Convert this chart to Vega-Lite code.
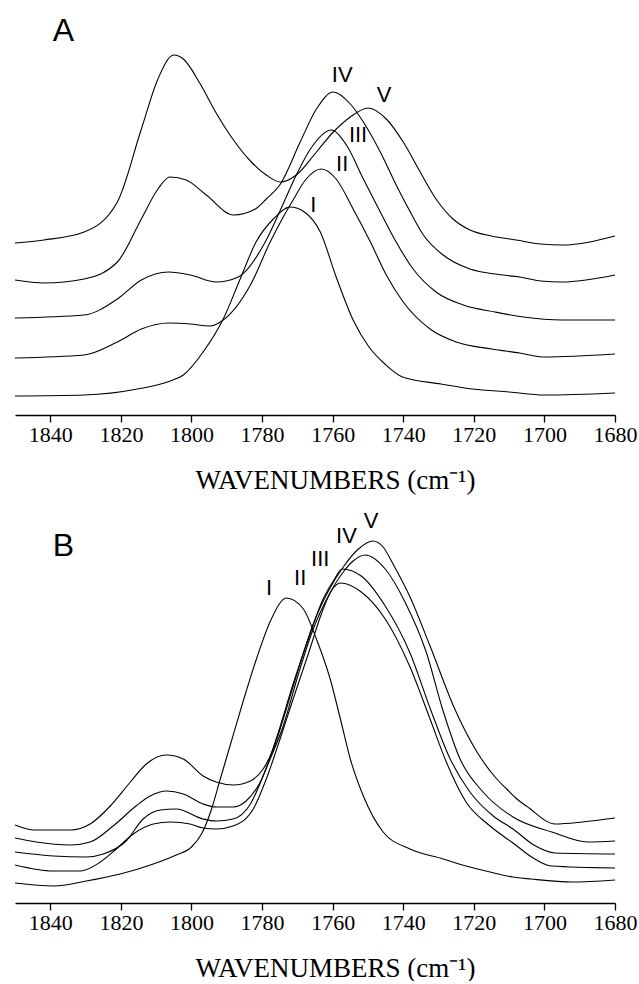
{
  "$schema": "https://vega.github.io/schema/vega-lite/v6.json",
  "padding": {"left": 12, "top": 15, "right": 27, "bottom": 0},
  "background": "white",
  "spacing": 11,
  "config": {
    "view": {"stroke": null}
  },
  "datasets": {
    "specA": [
      {"s":"V","w":1850,"a":172},{"s":"V","w":1841.8,"a":175},{"s":"V","w":1830.4,"a":183},{"s":"V","w":1821,"a":213},{"s":"V","w":1814.2,"a":286},{"s":"V","w":1809.5,"a":336},{"s":"V","w":1805,"a":360},{"s":"V","w":1802.3,"a":356},{"s":"V","w":1797.5,"a":331},{"s":"V","w":1793,"a":302},{"s":"V","w":1788.1,"a":275},{"s":"V","w":1783.3,"a":254},{"s":"V","w":1778.8,"a":240},{"s":"V","w":1774.8,"a":233},{"s":"V","w":1770.3,"a":240},{"s":"V","w":1764.6,"a":263},{"s":"V","w":1759.8,"a":283},{"s":"V","w":1755,"a":298},{"s":"V","w":1749.9,"a":307},{"s":"V","w":1744.8,"a":296},{"s":"V","w":1740,"a":273},{"s":"V","w":1735.2,"a":243},{"s":"V","w":1730.7,"a":216},{"s":"V","w":1725.9,"a":196},{"s":"V","w":1721.1,"a":185},{"s":"V","w":1715,"a":179},{"s":"V","w":1708,"a":175},{"s":"V","w":1701,"a":171},{"s":"V","w":1695,"a":170},{"s":"V","w":1680,"a":179},
      {"s":"IV","w":1850,"a":135},{"s":"IV","w":1841.8,"a":132},{"s":"IV","w":1830.4,"a":136},{"s":"IV","w":1821,"a":153},{"s":"IV","w":1814.2,"a":196},{"s":"IV","w":1809.5,"a":226},{"s":"IV","w":1806.1,"a":238},{"s":"IV","w":1801.5,"a":235},{"s":"IV","w":1795.8,"a":220},{"s":"IV","w":1788.1,"a":200},{"s":"IV","w":1781.9,"a":206},{"s":"IV","w":1778.8,"a":216},{"s":"IV","w":1774.8,"a":231},{"s":"IV","w":1769.2,"a":273},{"s":"IV","w":1764.6,"a":306},{"s":"IV","w":1759.8,"a":323},{"s":"IV","w":1755,"a":311},{"s":"IV","w":1751.3,"a":293},{"s":"IV","w":1746.5,"a":263},{"s":"IV","w":1742,"a":230},{"s":"IV","w":1738,"a":203},{"s":"IV","w":1734.3,"a":180},{"s":"IV","w":1728.7,"a":160},{"s":"IV","w":1721.1,"a":146},{"s":"IV","w":1714,"a":141},{"s":"IV","w":1707,"a":138},{"s":"IV","w":1701,"a":134},{"s":"IV","w":1695,"a":133},{"s":"IV","w":1680,"a":140},
      {"s":"III","w":1850,"a":97},{"s":"III","w":1830.4,"a":100},{"s":"III","w":1821,"a":116},{"s":"III","w":1814.2,"a":135},{"s":"III","w":1806.5,"a":143},{"s":"III","w":1800.3,"a":140},{"s":"III","w":1793,"a":133},{"s":"III","w":1786.7,"a":138},{"s":"III","w":1779.1,"a":173},{"s":"III","w":1774.8,"a":205},{"s":"III","w":1770.3,"a":240},{"s":"III","w":1766.3,"a":266},{"s":"III","w":1760.4,"a":285},{"s":"III","w":1756.1,"a":270},{"s":"III","w":1751.3,"a":236},{"s":"III","w":1746.5,"a":203},{"s":"III","w":1742,"a":173},{"s":"III","w":1737.2,"a":146},{"s":"III","w":1730.7,"a":123},{"s":"III","w":1723,"a":110},{"s":"III","w":1714,"a":103},{"s":"III","w":1706,"a":98},{"s":"III","w":1695,"a":95},{"s":"III","w":1680,"a":95},
      {"s":"II","w":1850,"a":57},{"s":"II","w":1830.4,"a":60},{"s":"II","w":1821,"a":73},{"s":"II","w":1814.2,"a":86},{"s":"II","w":1806.5,"a":92},{"s":"II","w":1800.3,"a":91},{"s":"II","w":1794.7,"a":89},{"s":"II","w":1791,"a":95},{"s":"II","w":1783.3,"a":130},{"s":"II","w":1777.7,"a":173},{"s":"II","w":1774,"a":198},{"s":"II","w":1771.2,"a":215},{"s":"II","w":1767.5,"a":236},{"s":"II","w":1763.2,"a":246},{"s":"II","w":1759,"a":236},{"s":"II","w":1754.2,"a":206},{"s":"II","w":1749.3,"a":173},{"s":"II","w":1744.8,"a":140},{"s":"II","w":1740,"a":113},{"s":"II","w":1732.4,"a":86},{"s":"II","w":1725,"a":73},{"s":"II","w":1715,"a":66},{"s":"II","w":1707,"a":62},{"s":"II","w":1700,"a":58},{"s":"II","w":1680,"a":61},
      {"s":"I","w":1850,"a":19},{"s":"I","w":1830.4,"a":20},{"s":"I","w":1815.3,"a":26},{"s":"I","w":1806,"a":34},{"s":"I","w":1802.3,"a":40},{"s":"I","w":1796.7,"a":63},{"s":"I","w":1791,"a":96},{"s":"I","w":1786.2,"a":136},{"s":"I","w":1781.7,"a":173},{"s":"I","w":1776.8,"a":196},{"s":"I","w":1772,"a":208},{"s":"I","w":1768,"a":203},{"s":"I","w":1763.5,"a":183},{"s":"I","w":1759,"a":138},{"s":"I","w":1754.2,"a":95},{"s":"I","w":1749.7,"a":68},{"s":"I","w":1745.2,"a":51},{"s":"I","w":1740.2,"a":38},{"s":"I","w":1729.3,"a":31},{"s":"I","w":1720.3,"a":26},{"s":"I","w":1710,"a":23},{"s":"I","w":1700,"a":20},{"s":"I","w":1680,"a":22}
    ],
    "specB": [
      {"s":"V","w":1850,"a":78},{"s":"V","w":1844.5,"a":73},{"s":"V","w":1834.3,"a":73},{"s":"V","w":1828.7,"a":79},{"s":"V","w":1823,"a":97},{"s":"V","w":1817.3,"a":121},{"s":"V","w":1812.8,"a":139},{"s":"V","w":1807.1,"a":148},{"s":"V","w":1802.3,"a":144},{"s":"V","w":1796.7,"a":127},{"s":"V","w":1793,"a":121},{"s":"V","w":1788.1,"a":118},{"s":"V","w":1783.3,"a":122},{"s":"V","w":1779.7,"a":134},{"s":"V","w":1776.8,"a":154},{"s":"V","w":1774,"a":184},{"s":"V","w":1769.7,"a":234},{"s":"V","w":1765.5,"a":279},{"s":"V","w":1761.2,"a":312},{"s":"V","w":1757,"a":336},{"s":"V","w":1752.7,"a":354},{"s":"V","w":1748.6,"a":362},{"s":"V","w":1745.7,"a":356},{"s":"V","w":1742.9,"a":339},{"s":"V","w":1738.2,"a":307},{"s":"V","w":1732.4,"a":257},{"s":"V","w":1725.4,"a":194},{"s":"V","w":1719.1,"a":151},{"s":"V","w":1713.5,"a":124},{"s":"V","w":1710.7,"a":114},{"s":"V","w":1707.8,"a":104},{"s":"V","w":1705.1,"a":97},{"s":"V","w":1696.9,"a":79},{"s":"V","w":1689.2,"a":81},{"s":"V","w":1680,"a":85},
      {"s":"IV","w":1850,"a":65},{"s":"IV","w":1844,"a":61},{"s":"IV","w":1834.3,"a":58},{"s":"IV","w":1828.7,"a":61},{"s":"IV","w":1822.2,"a":77},{"s":"IV","w":1815.7,"a":97},{"s":"IV","w":1811.7,"a":107},{"s":"IV","w":1807.1,"a":112},{"s":"IV","w":1802.3,"a":109},{"s":"IV","w":1796.7,"a":99},{"s":"IV","w":1793,"a":96},{"s":"IV","w":1788.2,"a":96},{"s":"IV","w":1784.5,"a":102},{"s":"IV","w":1780.5,"a":121},{"s":"IV","w":1777.7,"a":144},{"s":"IV","w":1774,"a":177},{"s":"IV","w":1769.7,"a":229},{"s":"IV","w":1765.5,"a":274},{"s":"IV","w":1761.2,"a":307},{"s":"IV","w":1757,"a":331},{"s":"IV","w":1754.2,"a":342},{"s":"IV","w":1750.8,"a":348},{"s":"IV","w":1745.1,"a":334},{"s":"IV","w":1739.5,"a":301},{"s":"IV","w":1733.5,"a":251},{"s":"IV","w":1728.7,"a":192},{"s":"IV","w":1723.9,"a":144},{"s":"IV","w":1717.4,"a":111},{"s":"IV","w":1708.9,"a":86},{"s":"IV","w":1697.9,"a":71},{"s":"IV","w":1687.7,"a":61},{"s":"IV","w":1680,"a":62},
      {"s":"III","w":1850,"a":51},{"s":"III","w":1839.1,"a":47},{"s":"III","w":1829.8,"a":46},{"s":"III","w":1825,"a":49},{"s":"III","w":1818.5,"a":62},{"s":"III","w":1813.7,"a":84},{"s":"III","w":1808.8,"a":93},{"s":"III","w":1804.3,"a":94},{"s":"III","w":1796.7,"a":84},{"s":"III","w":1793,"a":82},{"s":"III","w":1788.2,"a":84},{"s":"III","w":1783.3,"a":99},{"s":"III","w":1779.7,"a":127},{"s":"III","w":1776,"a":164},{"s":"III","w":1771.2,"a":219},{"s":"III","w":1766.9,"a":264},{"s":"III","w":1762.7,"a":304},{"s":"III","w":1759.8,"a":322},{"s":"III","w":1757.3,"a":334},{"s":"III","w":1751.9,"a":327},{"s":"III","w":1745.1,"a":297},{"s":"III","w":1738.2,"a":251},{"s":"III","w":1732.1,"a":192},{"s":"III","w":1726.7,"a":144},{"s":"III","w":1721.1,"a":111},{"s":"III","w":1714.5,"a":87},{"s":"III","w":1708.9,"a":74},{"s":"III","w":1703,"a":58},{"s":"III","w":1697,"a":50},{"s":"III","w":1680,"a":49},
      {"s":"II","w":1850,"a":38},{"s":"II","w":1839.1,"a":32},{"s":"II","w":1831.5,"a":32},{"s":"II","w":1825.8,"a":41},{"s":"II","w":1821.3,"a":54},{"s":"II","w":1816.5,"a":69},{"s":"II","w":1810.8,"a":79},{"s":"II","w":1806,"a":81},{"s":"II","w":1800.4,"a":79},{"s":"II","w":1796.7,"a":75},{"s":"II","w":1793,"a":74},{"s":"II","w":1788.2,"a":77},{"s":"II","w":1782.5,"a":94},{"s":"II","w":1778.8,"a":124},{"s":"II","w":1774.9,"a":164},{"s":"II","w":1771.2,"a":204},{"s":"II","w":1766.9,"a":249},{"s":"II","w":1763.2,"a":289},{"s":"II","w":1760.4,"a":312},{"s":"II","w":1757.8,"a":320},{"s":"II","w":1751.9,"a":311},{"s":"II","w":1745.1,"a":284},{"s":"II","w":1738.2,"a":237},{"s":"II","w":1732.4,"a":184},{"s":"II","w":1727.8,"a":141},{"s":"II","w":1722.2,"a":101},{"s":"II","w":1715.4,"a":77},{"s":"II","w":1708.9,"a":60},{"s":"II","w":1703.2,"a":45},{"s":"II","w":1698,"a":37},{"s":"II","w":1680,"a":35},
      {"s":"I","w":1850,"a":20},{"s":"I","w":1839.1,"a":17},{"s":"I","w":1829.8,"a":22},{"s":"I","w":1820.2,"a":29},{"s":"I","w":1810.8,"a":39},{"s":"I","w":1804.3,"a":48},{"s":"I","w":1800,"a":56},{"s":"I","w":1797,"a":70},{"s":"I","w":1794.5,"a":92},{"s":"I","w":1792,"a":122},{"s":"I","w":1789,"a":158},{"s":"I","w":1785.5,"a":200},{"s":"I","w":1781.5,"a":245},{"s":"I","w":1777.5,"a":283},{"s":"I","w":1773.1,"a":305},{"s":"I","w":1768.3,"a":294},{"s":"I","w":1764.6,"a":264},{"s":"I","w":1760.7,"a":224},{"s":"I","w":1757.8,"a":184},{"s":"I","w":1755,"a":144},{"s":"I","w":1751.3,"a":107},{"s":"I","w":1745.7,"a":71},{"s":"I","w":1738.1,"a":54},{"s":"I","w":1728.7,"a":44},{"s":"I","w":1722.2,"a":37},{"s":"I","w":1715.4,"a":31},{"s":"I","w":1708.9,"a":26},{"s":"I","w":1703.8,"a":24},{"s":"I","w":1692.2,"a":21},{"s":"I","w":1680,"a":23}
    ],
    "labA": [
      {"t":"IV","w":1757.3,"a":340},{"t":"V","w":1745.4,"a":320},{"t":"III","w":1752.8,"a":280},{"t":"II","w":1757.3,"a":251},{"t":"I","w":1765.5,"a":210}
    ],
    "labB": [
      {"t":"I","w":1778,"a":315},{"t":"II","w":1769.2,"a":325},{"t":"III","w":1763.5,"a":344},{"t":"IV","w":1756.1,"a":367},{"t":"V","w":1749.1,"a":382}
    ],
    "panA": [{"t":"A","w":1836.3,"a":384}],
    "panB": [{"t":"B","w":1836.3,"a":357}]
  },
  "vconcat": [
    {
      "width": 600, "height": 398,
      "layer": [
        {
          "data": {"name": "specA"},
          "mark": {"type": "line", "color": "black", "strokeWidth": 1.1, "interpolate": "monotone"},
          "encoding": {
            "x": {"field": "w", "type": "quantitative", "scale": {"domain": [1680, 1850], "reverse": true, "nice": false, "zero": false},
              "axis": {"title": "WAVENUMBERS (cm⁻¹)", "values": [1840, 1820, 1800, 1780, 1760, 1740, 1720, 1700, 1680], "format": "d",
                "domainColor": "black", "domainWidth": 1.5, "tickColor": "black", "tickWidth": 1.3, "tickSize": 7,
                "labelFont": "Liberation Serif", "labelFontSize": 22, "labelColor": "black", "labelPadding": 2, "labelFlush": false, "labelOverlap": false,
                "titleFont": "Liberation Serif", "titleFontSize": 27, "titleFontWeight": "normal", "titleColor": "black", "titlePadding": 22, "titleX": 320, "grid": false}},
            "y": {"field": "a", "type": "quantitative", "scale": {"domain": [0, 398], "nice": false}, "axis": null},
            "detail": {"field": "s"}
          }
        },
        {
          "data": {"name": "labA"},
          "mark": {"type": "text", "font": "Liberation Sans", "fontSize": 22, "color": "black", "align": "center", "baseline": "middle"},
          "encoding": {
            "x": {"field": "w", "type": "quantitative"},
            "y": {"field": "a", "type": "quantitative"},
            "text": {"field": "t"}
          }
        },
        {
          "data": {"name": "panA"},
          "mark": {"type": "text", "font": "Liberation Sans", "fontSize": 32, "color": "black", "align": "center", "baseline": "middle"},
          "encoding": {
            "x": {"field": "w", "type": "quantitative"},
            "y": {"field": "a", "type": "quantitative"},
            "text": {"field": "t"}
          }
        }
      ]
    },
    {
      "width": 600, "height": 399,
      "layer": [
        {
          "data": {"name": "specB"},
          "mark": {"type": "line", "color": "black", "strokeWidth": 1.1, "interpolate": "monotone"},
          "encoding": {
            "x": {"field": "w", "type": "quantitative", "scale": {"domain": [1680, 1850], "reverse": true, "nice": false, "zero": false},
              "axis": {"title": "WAVENUMBERS (cm⁻¹)", "values": [1840, 1820, 1800, 1780, 1760, 1740, 1720, 1700, 1680], "format": "d",
                "domainColor": "black", "domainWidth": 1.5, "tickColor": "black", "tickWidth": 1.3, "tickSize": 7,
                "labelFont": "Liberation Serif", "labelFontSize": 22, "labelColor": "black", "labelPadding": 2, "labelFlush": false, "labelOverlap": false,
                "titleFont": "Liberation Serif", "titleFontSize": 27, "titleFontWeight": "normal", "titleColor": "black", "titlePadding": 22, "titleX": 320, "grid": false}},
            "y": {"field": "a", "type": "quantitative", "scale": {"domain": [0, 399], "nice": false}, "axis": null},
            "detail": {"field": "s"}
          }
        },
        {
          "data": {"name": "labB"},
          "mark": {"type": "text", "font": "Liberation Sans", "fontSize": 22, "color": "black", "align": "center", "baseline": "middle"},
          "encoding": {
            "x": {"field": "w", "type": "quantitative"},
            "y": {"field": "a", "type": "quantitative"},
            "text": {"field": "t"}
          }
        },
        {
          "data": {"name": "panB"},
          "mark": {"type": "text", "font": "Liberation Sans", "fontSize": 32, "color": "black", "align": "center", "baseline": "middle"},
          "encoding": {
            "x": {"field": "w", "type": "quantitative"},
            "y": {"field": "a", "type": "quantitative"},
            "text": {"field": "t"}
          }
        }
      ]
    }
  ]
}
